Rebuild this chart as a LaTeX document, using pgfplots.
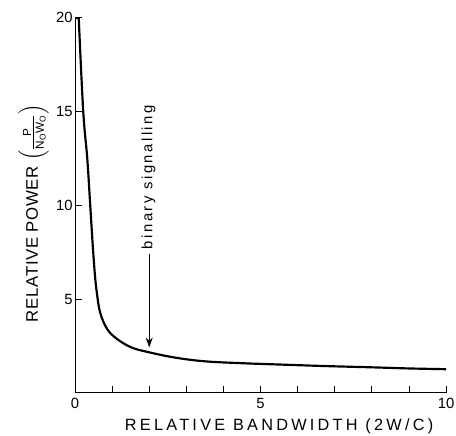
\documentclass[border=0pt]{standalone}
\usepackage{fontspec}
\setmainfont{Liberation Sans}
\usepackage{amsmath}
\usepackage{pgfplots}
\pgfplotsset{compat=1.18}
\usetikzlibrary{arrows.meta}

\begin{document}
\begin{tikzpicture}
\begin{axis}[
    width=376pt, height=380pt, scale only axis,
    xmin=0, xmax=10, ymin=0, ymax=20,
    axis x line*=bottom, axis y line*=left,
    axis line style={line width=1pt, -},
    xtick={0,1,...,10}, xticklabels={0,,,,,5,,,,,10},
    ytick={5,10,15,20},
    tick align=inside, major tick length=7pt,
    tick style={line width=0.9pt, black},
    /pgf/number format/assume math mode=true,
    ticklabel style={font=\fontsize{15}{15}\selectfont},
    xticklabel style={yshift=-2pt},
    yticklabel style={xshift=1pt},
    xlabel={\addfontfeatures{LetterSpace=20}RELATIVE BANDWIDTH (2W/C)},
    xlabel style={font=\fontsize{16.5}{16.5}\selectfont, at={(axis description cs:0.55,-0.09)}, anchor=center},
    ylabel={\addfontfeatures{LetterSpace=4}RELATIVE POWER $\left(\frac{\text{P}}{\text{N}_{\text{O}}\text{W}_{\text{O}}}\right)$},
    ylabel style={font=\fontsize{17}{17}\selectfont, at={(axis description cs:-0.1,0.479)}, anchor=base, rotate=0},
    clip=false,
]
\addplot[black, line width=2.2pt] coordinates {(0.02,20) (0.1,20)};
\addplot[black, line width=2.2pt, smooth, tension=0.6] coordinates {
(0.1,20) (0.22,15.05) (0.33,12.5) (0.41,10) (0.48,7.8) (0.54,6.2)
(0.6,5.16) (0.68,4.26) (0.86,3.42) (1.12,2.89) (1.52,2.42) (2.0,2.16)
(2.69,1.88) (3.5,1.68) (4.5,1.58) (5.5,1.51) (6.7,1.43) (8,1.36)
(9,1.3) (10,1.26)};
\draw[-{Stealth[length=10pt,width=7pt]}, line width=0.8pt] (axis cs:2,7.4) -- (axis cs:2,2.42);
\node[rotate=90, anchor=west, inner sep=1pt, font=\fontsize{15}{15}\selectfont\addfontfeatures{LetterSpace=17}] at (axis cs:1.98,7.6) {binary signalling};
\end{axis}
\pgfresetboundingbox
\useasboundingbox ([xshift=-76pt,yshift=-43pt]current axis.south west) rectangle ([xshift=10pt,yshift=18pt]current axis.north east);
\end{tikzpicture}
\end{document}
